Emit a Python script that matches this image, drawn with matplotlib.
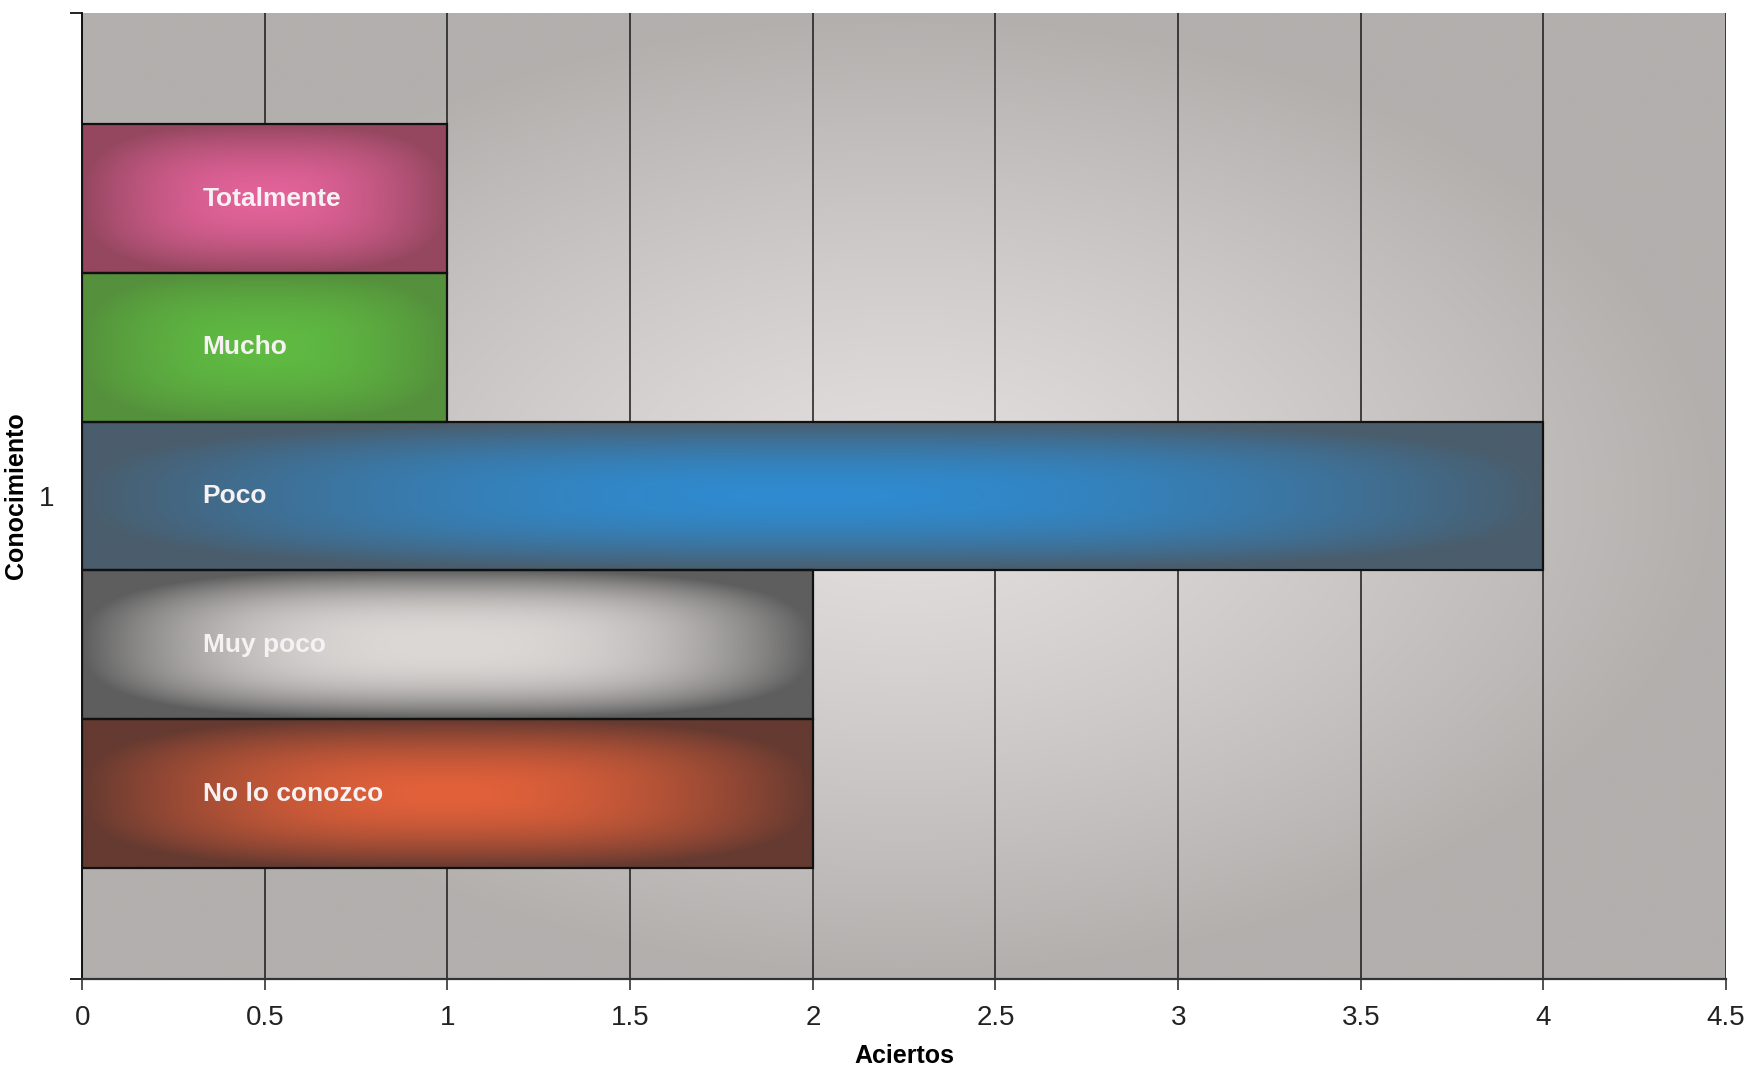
"""Horizontal bar chart of correct answers by level of knowledge."""

import numpy as np
from matplotlib import pyplot as plt
from matplotlib.colors import to_rgb

# Series listed from the top bar down to the bottom bar.
SERIES = ["Totalmente", "Mucho", "Poco", "Muy poco", "No lo conozco"]
ACIERTOS = [1, 1, 4, 2, 2]
CENTRE_COLORS = ["#e3639a", "#5fbb42", "#2f8bd0", "#dcd8d6", "#e2613a"]
EDGE_COLORS = ["#94475f", "#55903c", "#4a5d6c", "#5e5e5e", "#653a31"]

CATEGORY = 1
X_TICKS = [0, 0.5, 1, 1.5, 2, 2.5, 3, 3.5, 4, 4.5]
X_TICK_LABELS = ["0", "0.5", "1", "1.5", "2", "2.5", "3", "3.5", "4", "4.5"]

BAR_HEIGHT = 0.154
FONT = ["Liberation Sans", "DejaVu Sans"]


def gradient_image(inner, outer, power=3.0, falloff=1.8, res=240):
    """Return an RGB array shading from inner at the middle to outer at the rim."""
    u = np.linspace(-1, 1, res)
    uu, vv = np.meshgrid(u, u)
    dist = (np.abs(uu) ** power + np.abs(vv) ** power) ** (1.0 / power)
    t = np.clip(dist, 0, 1) ** falloff
    inner = np.array(to_rgb(inner))
    outer = np.array(to_rgb(outer))
    return inner * (1 - t[..., None]) + outer * t[..., None]


def shade_patch(ax, rect, inner, outer, zorder, **kw):
    """Fill a rectangle patch with a centred gradient clipped to its outline."""
    x0, y0 = rect.get_x(), rect.get_y()
    w, h = rect.get_width(), rect.get_height()
    img = ax.imshow(gradient_image(inner, outer, **kw),
                    extent=(x0, x0 + w, y0, y0 + h), origin="lower",
                    aspect="auto", interpolation="bilinear", zorder=zorder)
    img.set_clip_path(rect)
    return img


plt.rcParams["font.family"] = FONT
fig = plt.figure(figsize=(17.48, 10.68), dpi=100)
ax = fig.add_axes([0.047, 0.0833, 0.9405, 0.9045])

# plot area background, lighter towards the middle
ax.imshow(gradient_image("#e4e0df", "#b2afad", power=2.0, falloff=1.2),
          extent=(0, 4.5, 0.5, 1.5), origin="lower", aspect="auto",
          interpolation="bilinear", zorder=0)

n = len(SERIES)
offsets = [(n - 1) / 2 - i for i in range(n)]
y_pos = [CATEGORY + off * BAR_HEIGHT for off in offsets]

bars = ax.barh(y_pos, ACIERTOS, height=BAR_HEIGHT, facecolor="none",
               edgecolor="#111111", linewidth=1.6, zorder=3)
for rect, name, inner, outer in zip(bars, SERIES, CENTRE_COLORS, EDGE_COLORS):
    falloff = 2.6 if name == "Muy poco" else 1.8
    shade_patch(ax, rect, inner, outer, zorder=2, falloff=falloff)
    ax.text(0.33, rect.get_y() + rect.get_height() / 2, name,
            ha="left", va="center", color="#f6f1f2", fontsize=19,
            fontweight="bold", zorder=4)

ax.set_xlim(0, 4.5)
ax.set_ylim(CATEGORY - 0.5, CATEGORY + 0.5)

ax.set_axisbelow(True)
ax.grid(axis="x", color="#1a1a1a", linewidth=1.1)
ax.grid(axis="y", visible=False)

ax.set_xticks(X_TICKS)
ax.set_xticklabels(X_TICK_LABELS)
ax.tick_params(axis="x", direction="out", length=8, width=1.1,
               colors="#222222", labelsize=20, pad=11)

ax.set_yticks([CATEGORY])
ax.set_yticklabels([str(CATEGORY)])
ax.set_yticks([CATEGORY - 0.5, CATEGORY + 0.5], minor=True)
ax.tick_params(axis="y", which="major", length=0, labelsize=20,
               colors="#222222", pad=20)
ax.tick_params(axis="y", which="minor", direction="out", length=9,
               width=1.3, colors="#111111")

for side in ("top", "right"):
    ax.spines[side].set_visible(False)
ax.spines["left"].set_color("#111111")
ax.spines["left"].set_linewidth(1.4)
ax.spines["bottom"].set_color("#333333")
ax.spines["bottom"].set_linewidth(1.6)

ax.set_xlabel("Aciertos", fontsize=18, fontweight="bold", labelpad=9)
ax.set_ylabel("Conocimiento", fontsize=18, fontweight="bold")
ax.yaxis.set_label_coords(-0.033, 0.5)

fig.savefig("out.png", dpi=100, facecolor="white")
